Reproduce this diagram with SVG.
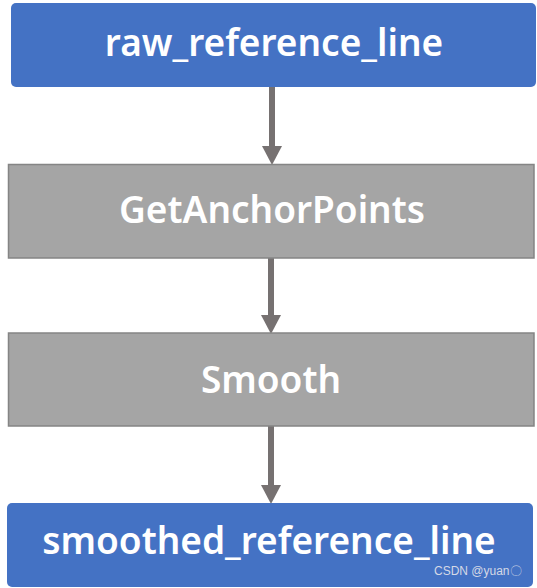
<svg xmlns="http://www.w3.org/2000/svg" width="537" height="588" viewBox="0 0 537 588">
<style>
.blue{fill:#4472c4;}
.gray{fill:#a5a5a5;stroke:#858585;stroke-width:1.5;}
.lbl{font-family:"Noto Sans","Open Sans","DejaVu Sans",sans-serif;font-weight:600;font-size:37px;fill:#ffffff;text-anchor:middle;}
.conn{stroke:#767171;stroke-width:6;fill:none;}
.wm{font-family:"Liberation Sans","DejaVu Sans",sans-serif;font-size:12px;fill:#d5d9e6;}
</style>
<defs>
<marker id="ah" markerUnits="userSpaceOnUse" markerWidth="19" markerHeight="20" refX="0" refY="10" orient="auto">
<path d="M0,0 L19,10 L0,20 z" fill="#767171"/>
</marker>
</defs>
<rect width="537" height="588" fill="#ffffff"/>
<g id="connectors">
<line class="conn" x1="272" y1="87" x2="272" y2="146" marker-end="url(#ah)"/>
<line class="conn" x1="271" y1="258" x2="271" y2="315" marker-end="url(#ah)"/>
<line class="conn" x1="271" y1="426" x2="271" y2="485" marker-end="url(#ah)"/>
</g>
<g id="raw_reference_line">
<rect class="blue" x="11" y="3" width="525" height="84" rx="5"/>
<text class="lbl" x="274" y="56">raw_reference_line</text>
</g>
<g id="GetAnchorPoints">
<rect class="gray" x="8.5" y="164.5" width="525.5" height="93.5"/>
<text class="lbl" x="272" y="223">GetAnchorPoints</text>
</g>
<g id="Smooth">
<rect class="gray" x="8.5" y="333" width="525.5" height="93"/>
<text class="lbl" x="271" y="393">Smooth</text>
</g>
<g id="smoothed_reference_line">
<rect class="blue" x="7" y="503" width="526" height="84" rx="5"/>
<text class="lbl" x="269" y="554">smoothed_reference_line</text>
<text class="wm" x="434" y="575">CSDN @yuan〇</text>
</g>
</svg>
